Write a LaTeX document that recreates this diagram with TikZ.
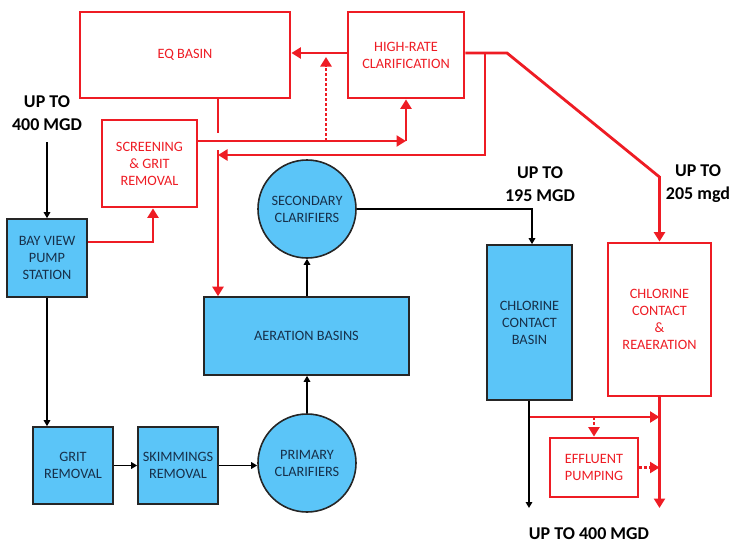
\documentclass[tikz,border=0pt]{standalone}
\usepackage{fontspec}
\setmainfont{Carlito}
\usetikzlibrary{arrows.meta}
\definecolor{rd}{HTML}{EE1C24}
\definecolor{bl}{HTML}{5BC5F8}
\definecolor{tx}{HTML}{17304A}
\begin{document}
\begin{tikzpicture}[x=1pt,y=-1pt,
  lbl/.style={font=\fontsize{14.3}{17}\selectfont, align=center, inner sep=0pt},
  redbox/.style={lbl, draw=rd, line width=2.8pt, text=rd, rectangle},
  bluebox/.style={lbl, draw=black!85, fill=bl, line width=1.6pt, text=tx, rectangle},
  bluecirc/.style={lbl, draw=black!85, fill=bl, line width=1.6pt, text=tx, circle, minimum size=98pt},
  big/.style={font=\bfseries\fontsize{18}{23}\selectfont, align=center, inner sep=0pt},
  rline/.style={draw=rd, line width=2.8pt},
  rarrow/.style={rline, -{Triangle[length=9.5pt,width=11pt]}},
  rdot/.style={rarrow, dash pattern=on 2.6pt off 2.4pt},
  barrow/.style={draw=black, line width=1.7pt, -{Triangle[length=6pt,width=6.5pt]}},
  bline/.style={draw=black, line width=1.7pt}]
\useasboundingbox (0,0) rectangle (739,544);

% nodes
\node[redbox, minimum width=210pt, minimum height=86pt] (eq) at (185,55) {EQ BASIN};
\node[redbox, minimum width=116pt, minimum height=86pt] (hr) at (406,55) {HIGH-RATE\\CLARIFICATION};
\node[redbox, minimum width=95pt, minimum height=87pt] (scr) at (149.5,163.5) {SCREENING\\\& GRIT\\REMOVAL};
\node[bluebox, minimum width=80pt, minimum height=78pt] (bv) at (47,258) {BAY VIEW\\PUMP\\STATION};
\node[bluebox, minimum width=80pt, minimum height=77pt] (grit) at (73,465.5) {GRIT\\REMOVAL};
\node[bluebox, minimum width=80pt, minimum height=77pt] (skim) at (178,465.5) {SKIMMINGS\\REMOVAL};
\node[bluecirc] (prim) at (307,463) {PRIMARY\\CLARIFIERS};
\node[bluebox, minimum width=205pt, minimum height=78pt] (aer) at (306.5,336) {AERATION BASINS};
\node[bluecirc] (sec) at (307,209) {SECONDARY\\CLARIFIERS};
\node[bluebox, minimum width=85pt, minimum height=155pt] (ccb) at (529.5,322.5) {CHLORINE\\CONTACT\\BASIN};
\node[redbox, minimum width=103pt, minimum height=153pt] (ccr) at (659.5,319.5) {CHLORINE\\CONTACT\\\&\\REAERATION};
\node[redbox, minimum width=88pt, minimum height=59pt] (eff) at (594,467.5) {EFFLUENT\\PUMPING};

\node[big] (in400) at (47,113) {UP TO\\400 MGD};
\node[big] (q195) at (540,184) {UP TO\\195 MGD};
\node[big] (q205) at (698,184) {UP TO\\205 mgd};
\node[big] (out400) at (589,534) {UP TO 400 MGD};

% coordinates
\coordinate (top400) at (47,142);
\coordinate (y53) at (0,53);
\coordinate (y141) at (0,141);
\coordinate (c406) at (406,141);
\coordinate (eqx) at (218,0);
\coordinate (gap1) at (218,133);
\coordinate (gap2) at (218,150);
\coordinate (d1) at (326,141);
\coordinate (d2) at (326,57);
\coordinate (k1) at (507,53);
\coordinate (k2) at (659.5,177);
\coordinate (b1) at (485,53);
\coordinate (b2) at (485,155);
\coordinate (b3) at (218,155);
\coordinate (y242) at (0,242);
\coordinate (s153) at (153,242);
\coordinate (x153) at (153,0);
\coordinate (s532) at (532,209);
\coordinate (x529) at (529,0);
\coordinate (j1) at (529,417);
\coordinate (e1) at (594,417);
\coordinate (out1) at (529,508);
\coordinate (out2) at (659.5,508);

% red connectors
\draw[rarrow] (hr.west |- y53) -- (eq.east |- y53);
\draw[rdot] (d1) -- (d2);
\draw[rarrow] (scr.east |- y141) -- (c406);
\draw[rarrow] (c406) -- (hr.south);
\draw[rline] (eq.south -| eqx) -- (gap1);
\draw[rarrow] (gap2) -- (aer.north -| eqx);
\draw[rarrow] (hr.east |- y53) -- (k1) -- (k2) -- (ccr.north);
\draw[rarrow] (b1) -- (b2) -- (b3);
\draw[rarrow] (bv.east |- y242) -- (s153) -- (scr.south -| x153);
\draw[rarrow] (j1) -- (ccr.south |- j1);
\draw[rarrow] (ccr.south) -- (out2);
\draw[rdot] (e1) -- (eff.north);
\draw[rdot] (eff.east) -- (ccr.south |- eff.east);

% black connectors
\draw[barrow] (top400) -- (bv.north);
\draw[barrow] (bv.south) -- (bv.south |- grit.north);
\draw[barrow] (grit.east) -- (skim.west);
\draw[barrow] (skim.east) -- (skim.east -| prim.west);
\draw[barrow] (prim.north) -- (prim.north |- aer.south);
\draw[barrow] (sec.south |- aer.north) -- (sec.south);
\draw[barrow] (sec.east) -- (s532) -- (ccb.north -| s532);
\draw[barrow] (ccb.south -| x529) -- (out1);
\end{tikzpicture}
\end{document}
